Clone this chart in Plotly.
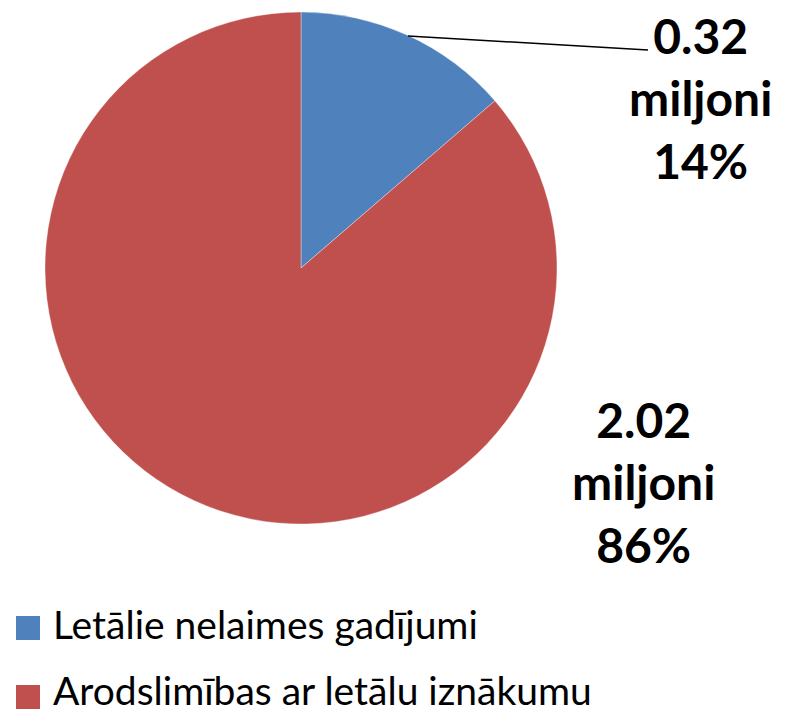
import plotly.graph_objects as go

labels = ["Letālie nelaimes gadījumi", "Arodslimības ar letālu iznākumu"]
values = [0.32, 2.02]
colors = ["#4F81BD", "#C0504D"]
unit = "miljoni"

# page body adds an 8px margin; size the figure to the visible area
OFF = 8
W, H = 788 - OFF, 710 - OFF
FONT = "Lato, Calibri, Carlito, sans-serif"


def px(x):
    return (x - OFF) / W


def py(y):
    return 1 - (y - OFF) / H


total = sum(values)
pcts = [round(v / total * 100) for v in values]

fig = go.Figure(go.Pie(
    labels=labels, values=values, sort=False, direction="clockwise", rotation=0,
    marker=dict(colors=colors, line=dict(color="rgba(255,255,255,0.6)", width=0.6)),
    textinfo="none", hoverinfo="label+value+percent", showlegend=False,
    domain=dict(x=[px(45), px(557)], y=[py(524), py(12)]),
))

# data labels
label_pos = [(700, 98), (643, 482)]
for v, p, (x, y) in zip(values, pcts, label_pos):
    fig.add_annotation(x=px(x), y=py(y), xref="paper", yref="paper",
                       text=f"<b>{v:.2f}<br>{unit}<br>{p}%</b>", showarrow=False,
                       font=dict(family=FONT, size=48, color="black", weight=900),
                       align="center", xanchor="center", yanchor="middle")

# leader line
fig.add_shape(type="line", xref="paper", yref="paper",
              x0=px(408), y0=py(36), x1=px(648), y1=py(50),
              line=dict(color="black", width=1.5))

# legend
box_y = [628, 697]
text_y = [624, 690]
for lab, c, yb, yt in zip(labels, colors, box_y, text_y):
    fig.add_shape(type="rect", xref="paper", yref="paper",
                  x0=px(16), x1=px(40), y0=py(yb - 12), y1=py(yb + 12),
                  fillcolor=c, line=dict(width=0))
    fig.add_annotation(x=px(51), y=py(yt), xref="paper", yref="paper",
                       text=lab, showarrow=False, xanchor="left", yanchor="middle",
                       font=dict(family=FONT, size=39, color="black"))

fig.update_layout(width=W, height=H, margin=dict(l=0, r=0, t=0, b=0),
                  paper_bgcolor="white", plot_bgcolor="white")
fig.write_html("out.html")
